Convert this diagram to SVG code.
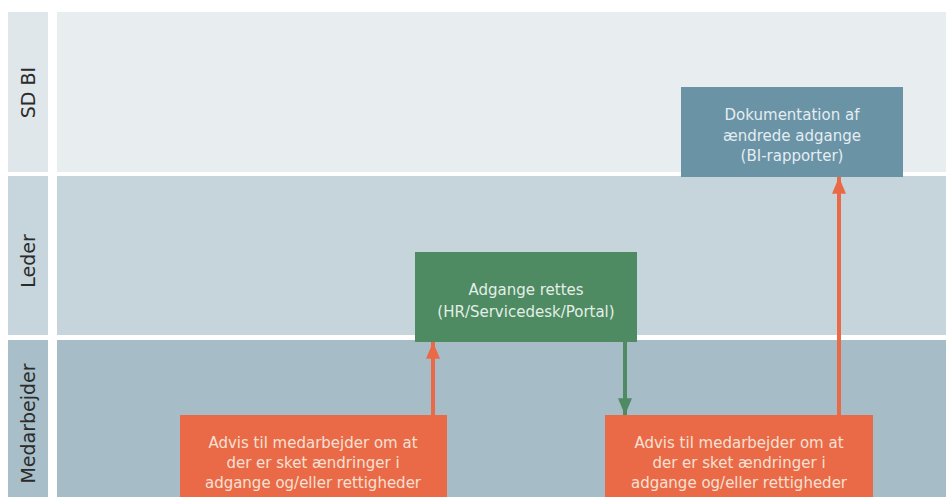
<svg xmlns="http://www.w3.org/2000/svg" width="946" height="497" viewBox="0 0 946 497">
<defs>
<style>
.lbl{font-family:"DejaVu Sans","Liberation Sans",sans-serif;font-size:19px;fill:#2b2b2b;text-anchor:middle}
.t{font-family:"DejaVu Sans","Liberation Sans",sans-serif;font-size:15px;text-anchor:middle}
.to{fill:#f6e0d3}
.tg{fill:#e3efe6}
.tb{fill:#e4edf1}
.orange{fill:#ea6a47}
.green{fill:#4e8a62}
.blue{fill:#6a93a6}
</style>
<marker id="ah-o" viewBox="0 0 12 10" refX="12" refY="5" markerWidth="4.2" markerHeight="3.5" orient="auto" markerUnits="strokeWidth"><path d="M0,0 L12,5 L0,10 z" fill="#ea6a47"/></marker>
<marker id="ah-g" viewBox="0 0 12 10" refX="12" refY="5" markerWidth="4.2" markerHeight="3.5" orient="auto" markerUnits="strokeWidth"><path d="M0,0 L12,5 L0,10 z" fill="#4e8a62"/></marker>
</defs>
<rect width="946" height="497" fill="#ffffff"/>
<g id="lane-sdbi">
<rect x="8" y="12" width="40" height="160" fill="#e0e7ea"/>
<rect x="57" y="12" width="889" height="160" fill="#e8edef"/>
<text class="lbl" transform="translate(35,92.5) rotate(-90)">SD BI</text>
</g>
<g id="lane-leder">
<rect x="8" y="176" width="40" height="159" fill="#c7d6dc"/>
<rect x="57" y="176" width="889" height="159" fill="#c5d5db"/>
<text class="lbl" transform="translate(35,261) rotate(-90)">Leder</text>
</g>
<g id="lane-medarbejder">
<rect x="8" y="340" width="40" height="157" fill="#a8bfca"/>
<rect x="57" y="340" width="889" height="157" fill="#a6bcc7"/>
<text class="lbl" transform="translate(35,423.5) rotate(-90)">Medarbejder</text>
</g>
<g id="connectors">
<line x1="433" y1="415" x2="433" y2="342" stroke="#ea6a47" stroke-width="4" marker-end="url(#ah-o)"/>
<line x1="625" y1="342" x2="625" y2="415" stroke="#4e8a62" stroke-width="4" marker-end="url(#ah-g)"/>
<line x1="839" y1="415" x2="839" y2="177" stroke="#ea6a47" stroke-width="4" marker-end="url(#ah-o)"/>
</g>
<g id="node-adgange">
<rect class="green" x="415" y="252" width="222" height="90"/>
<text class="t tg" x="526" y="295">Adgange rettes</text>
<text class="t tg" x="526" y="317">(HR/Servicedesk/Portal)</text>
</g>
<g id="node-advis1">
<rect class="orange" x="180" y="415" width="267" height="82"/>
<text class="t to" x="313" y="448">Advis til medarbejder om at</text>
<text class="t to" x="313" y="468">der er sket ændringer i</text>
<text class="t to" x="313" y="488">adgange og/eller rettigheder</text>
</g>
<g id="node-advis2">
<rect class="orange" x="605" y="415" width="268" height="82"/>
<text class="t to" x="739" y="448">Advis til medarbejder om at</text>
<text class="t to" x="739" y="468">der er sket ændringer i</text>
<text class="t to" x="739" y="488">adgange og/eller rettigheder</text>
</g>
<g id="node-dokumentation">
<rect class="blue" x="681" y="87" width="222" height="90"/>
<text class="t tb" x="792" y="120">Dokumentation af</text>
<text class="t tb" x="792" y="141">ændrede adgange</text>
<text class="t tb" x="792" y="161">(BI-rapporter)</text>
</g>
</svg>
